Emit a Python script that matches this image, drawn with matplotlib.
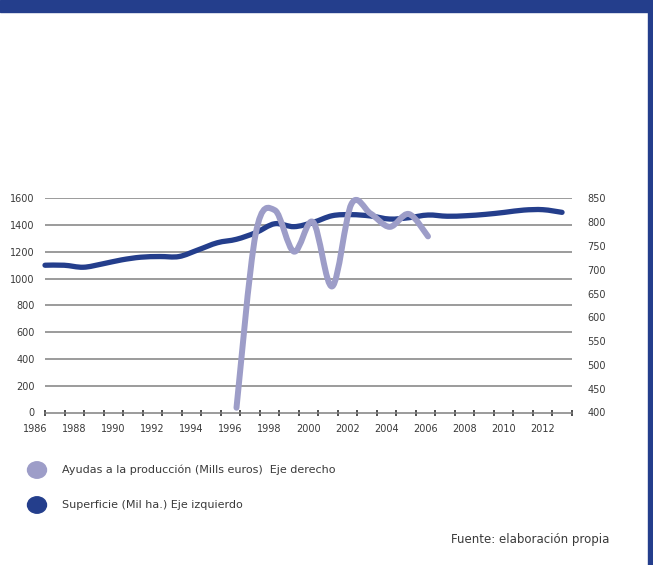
import numpy as np
import matplotlib
matplotlib.use("Agg")
import matplotlib.pyplot as plt
from matplotlib.path import Path
from matplotlib.patches import PathPatch, Rectangle, Circle

# ---- data ----
years_sup = list(range(1986, 2014))
superficie = [1100, 1100, 1085, 1110, 1140, 1160, 1165, 1165, 1215, 1268, 1294, 1343,
              1410, 1388, 1420, 1470, 1478, 1468, 1445, 1455, 1475, 1466, 1470, 1480,
              1495, 1512, 1515, 1495]
years_ayu = list(range(1996, 2007))
ayudas = [410, 775, 825, 738, 800, 665, 838, 818, 790, 817, 770]
year_labels = list(range(1986, 2013, 2))
left_ticks = list(range(0, 1601, 200))
right_ticks = list(range(400, 851, 50))

label_sup = "Superficie (Mil ha.) Eje izquierdo"
label_ayu = "Ayudas a la producción (Mills euros)  Eje derecho"
source = "Fuente: elaboración propia"

NAVY = "#243E8C"
LIGHT = "#9D9DC8"
TXT = "#3a3a3a"
GRID = "#808080"

plt.rcParams['font.family'] = ['DejaVu Sans']

W, H = 653, 565
fig = plt.figure(figsize=(W / 100, H / 100), dpi=100)

# frame bars
fig.patches.append(Rectangle((0, 1 - 12 / H), 1, 12 / H, transform=fig.transFigure,
                             color=NAVY, zorder=0))
fig.patches.append(Rectangle((648 / W, 0), 5 / W, 1 - 12 / H, transform=fig.transFigure,
                             color=NAVY, zorder=0))

ax_l, ax_r = 45, 572
ax_b, ax_t = 412.5, 198.3
ax = fig.add_axes([ax_l / W, 1 - ax_b / H, (ax_r - ax_l) / W, (ax_b - ax_t) / H])
ax.set_facecolor("none")
px_per_year = 19.15
xmin = 1986
xmax = 1986 + (ax_r - ax_l) / px_per_year
ax.set_xlim(xmin, xmax)
ax.set_ylim(0, 1600)

for s in ["top", "right", "left"]:
    ax.spines[s].set_visible(False)
ax.spines["bottom"].set_color(GRID)
ax.spines["bottom"].set_linewidth(1.1)

ax.set_yticks(left_ticks)
ax.set_yticklabels([str(v) for v in left_ticks])
ax.tick_params(axis="y", length=0, pad=7.5, labelsize=7, labelcolor=TXT)
for v in left_ticks[1:]:
    ax.axhline(v, color=GRID, lw=1.1, zorder=1)

ticks = np.linspace(xmin, xmax, 28)
ax.set_xticks(ticks)
ax.set_xticklabels([])
ax.tick_params(axis="x", direction="inout", length=4, width=1.1, color="#222222")
step = ticks[1] - ticks[0]
for j, yl in enumerate(year_labels):
    ax.text(ticks[2 * j] - step / 2, -0.075, str(yl), transform=ax.get_xaxis_transform(),
            ha="center", va="center", fontsize=7, color=TXT, clip_on=False)


def smooth_path(xs, ys):
    P = np.column_stack([xs, ys]).astype(float)
    n = len(P)
    verts = [P[0]]
    codes = [Path.MOVETO]
    for i in range(n - 1):
        p0 = P[i - 1] if i > 0 else P[i]
        p1 = P[i]
        p2 = P[i + 1]
        p3 = P[i + 2] if i + 2 < n else P[i + 1]
        c1 = p1 + (p2 - p0) / 6.0
        c2 = p2 - (p3 - p1) / 6.0
        verts += [c1, c2, p2]
        codes += [Path.CURVE4] * 3
    return Path(verts, codes)


ax2 = ax.twinx()
ax2.set_facecolor("none")
ax2.set_ylim(400, 850)
ax2.set_xlim(xmin, xmax)
for s in ax2.spines.values():
    s.set_visible(False)
ax2.set_yticks(right_ticks)
ax2.set_yticklabels([str(v) for v in right_ticks])
ax2.tick_params(axis="y", length=0, pad=11, labelsize=7, labelcolor=TXT)

p_sup = PathPatch(smooth_path(years_sup, superficie), fill=False, edgecolor=NAVY,
                  lw=3.8, capstyle="round", joinstyle="round", zorder=3)
ax.add_patch(p_sup)
p_sup.set_clip_on(False)
p_ayu = PathPatch(smooth_path(years_ayu, ayudas), fill=False, edgecolor=LIGHT,
                  lw=4.3, capstyle="round", joinstyle="round", zorder=3)
ax2.add_patch(p_ayu)
p_ayu.set_clip_on(False)

# legend
for yy, col, lab in [(470, LIGHT, label_ayu), (505, NAVY, label_sup)]:
    fig.patches.append(Circle((37 / W, 1 - yy / H), 9.5 / W, transform=fig.transFigure,
                              color=col))
    fig.text(62 / W, 1 - yy / H, lab, ha="left", va="center", fontsize=8, color=TXT)

fig.text(609 / W, 1 - 540 / H, source, ha="right", va="center", fontsize=8.5, color=TXT)

fig.savefig("out.png", dpi=100)
